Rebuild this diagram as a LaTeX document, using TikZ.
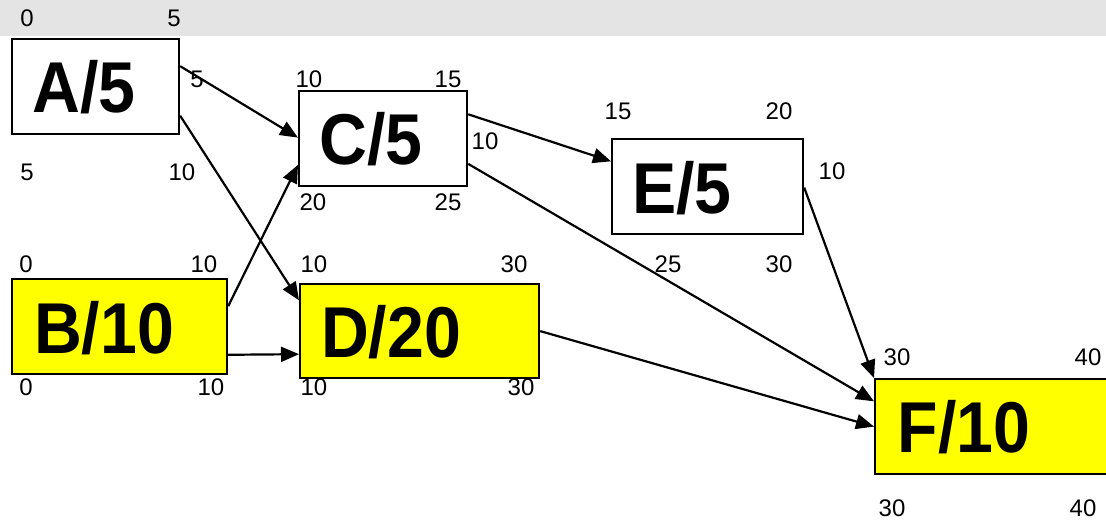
\documentclass[tikz,border=0pt]{standalone}
\usepackage{fontspec}
\usepackage{graphicx}
\setmainfont{Liberation Sans}
\usetikzlibrary{arrows.meta,calc}
\definecolor{bandgrey}{HTML}{E4E4E4}
\definecolor{critical}{HTML}{FFFF00}

\begin{document}
\begin{tikzpicture}[x=1pt,y=-1pt,
  box/.style={draw=black,line width=2.2pt,inner sep=0pt,anchor=north west},
  task/.style={font=\fontsize{72}{72}\selectfont\bfseries,inner sep=0pt},
  num/.style={font=\fontsize{24}{24}\selectfont,inner sep=0pt},
  link/.style={line width=2.2pt,-{Triangle[length=18pt,width=15pt]}}]

  \useasboundingbox (0,0) rectangle (1106,521);
  \clip (0,0) rectangle (1106,521);

  % header band
  \fill[bandgrey] (0,0) rectangle (1106,36);

  % activity boxes
  \node[box,fill=white,minimum width=167pt,minimum height=95pt] (A) at (11,38) {};
  \node[box,fill=white,minimum width=168pt,minimum height=95pt] (C) at (298,90) {};
  \node[box,fill=white,minimum width=191pt,minimum height=95pt] (E) at (611,138) {};
  \node[box,fill=critical,minimum width=215pt,minimum height=95pt] (B) at (11,278) {};
  \node[box,fill=critical,minimum width=239pt,minimum height=94pt] (D) at (299,283) {};
  \node[box,fill=critical,minimum width=240pt,minimum height=95pt] (F) at (874,378) {};

  % activity names
  \node[task] (At) at (84,87)  {\scalebox{0.92}[1]{A/5}};
  \node[task] (Ct) at (371,139) {\scalebox{0.92}[1]{C/5}};
  \node[task] (Et) at (682,188) {\scalebox{0.92}[1]{E/5}};
  \node[task] (Bt) at (104,328) {\scalebox{0.92}[1]{B/10}};
  \node[task] (Dt) at (391,332) {\scalebox{0.92}[1]{D/20}};
  \node[task] (Ft) at (964,427) {\scalebox{0.92}[1]{F/10}};

  % times
  \node[num] (a1) at (27,18)  {0};
  \node[num] (a2) at (174,18) {5};
  \node[num] (a3) at (197,79) {5};
  \node[num] (a4) at (27,172) {5};
  \node[num] (a5) at (182,172) {10};

  \node[num] (c1) at (309,79)  {10};
  \node[num] (c2) at (448,79)  {15};
  \node[num] (c3) at (485,141) {10};
  \node[num] (c4) at (313,202) {20};
  \node[num] (c5) at (448,202) {25};

  \node[num] (e1) at (618,111) {15};
  \node[num] (e2) at (779,111) {20};
  \node[num] (e3) at (832,171) {10};
  \node[num] (e4) at (668,264) {25};
  \node[num] (e5) at (779,264) {30};

  \node[num] (b1) at (26,264)  {0};
  \node[num] (b2) at (204,264) {10};
  \node[num] (b3) at (26,387)  {0};
  \node[num] (b4) at (211,387) {10};

  \node[num] (d1) at (314,264) {10};
  \node[num] (d2) at (514,264) {30};
  \node[num] (d3) at (314,387) {10};
  \node[num] (d4) at (521,387) {30};

  \node[num] (f1) at (897,357)  {30};
  \node[num] (f2) at (1088,357) {40};
  \node[num] (f3) at (892,508)  {30};
  \node[num] (f4) at (1083,508) {40};

  % precedence links
  \draw[link] ($(A.north east)!0.29!(A.south east)$) -- ($(C.north west)!0.49!(C.south west)$);
  \draw[link] ($(A.north east)!0.80!(A.south east)$) -- ($(D.north west)!0.18!(D.south west)$);
  \draw[link] ($(B.north east)!0.29!(B.south east)$) -- ($(C.north west)!0.77!(C.south west)$);
  \draw[link] ($(B.north east)!0.79!(B.south east)$) -- ($(D.north west)!0.74!(D.south west)$);
  \draw[link] ($(C.north east)!0.25!(C.south east)$) -- ($(E.north west)!0.24!(E.south west)$);
  \draw[link] ($(C.north east)!0.76!(C.south east)$) -- ($(F.north west)!0.24!(F.south west)$);
  \draw[link] ($(E.north east)!0.51!(E.south east)$) -- (F.north west);
  \draw[link] (D.east) -- (F.west);
\end{tikzpicture}
\end{document}
